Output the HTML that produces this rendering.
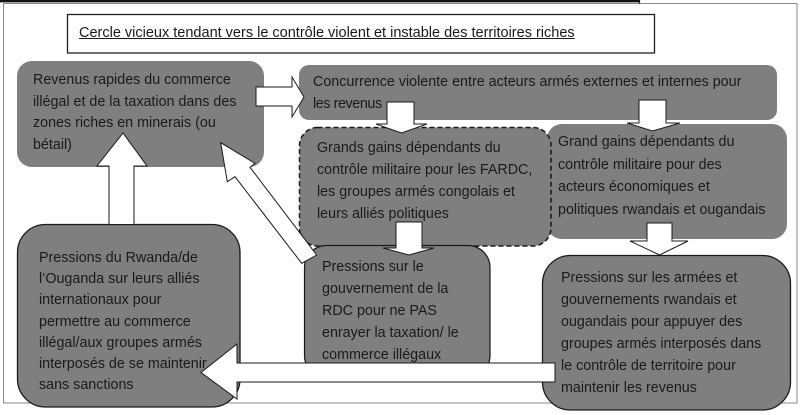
<!DOCTYPE html>
<html><head><meta charset="utf-8"><style>
html,body{margin:0;padding:0;background:#fff;}
body{width:800px;height:415px;position:relative;overflow:hidden;font-family:"Liberation Sans",Arial,sans-serif;}
svg{position:absolute;left:0;top:0;}
.t{position:absolute;color:#1a1a1a;font-size:14.3px;white-space:nowrap;line-height:22px;}
</style></head><body>
<svg width="800" height="415" style="z-index:1">
  <rect x="3.5" y="3.5" width="793.5" height="399.5" fill="#fff" stroke="#8a8a8a" stroke-width="1"/>
  <line x1="0" y1="1.2" x2="639.5" y2="1.2" stroke="#111" stroke-width="2.4"/>
  <line x1="639.5" y1="0" x2="639.5" y2="3.5" stroke="#111" stroke-width="1.2"/>
  <rect x="67.5" y="14.5" width="587" height="38.5" fill="#fff" stroke="#222" stroke-width="1.3"/>
  <rect x="17" y="61" width="247" height="106" rx="15" fill="#7f7f7f"/>
  <rect x="299" y="65" width="478" height="55" rx="10" fill="#7f7f7f"/>
  <rect x="547" y="124" width="240" height="115" rx="15" fill="#7f7f7f"/>
  <rect x="299.5" y="127.5" width="251.5" height="118.5" rx="18" fill="#7f7f7f" stroke="#1a1a1a" stroke-width="1.5" stroke-dasharray="5,3"/>
  <rect x="304.5" y="245.5" width="185.5" height="132" rx="22" fill="#7f7f7f" stroke="#1a1a1a" stroke-width="1.2"/>
  <rect x="17.5" y="224.5" width="222.5" height="182.5" rx="28" fill="#7f7f7f" stroke="#1a1a1a" stroke-width="1.3"/>
  <rect x="542.5" y="255.5" width="248" height="154.5" rx="28" fill="#7f7f7f" stroke="#1a1a1a" stroke-width="1.3"/>
</svg>

<div class="t" style="z-index:2;left:79px;top:22px;font-size:14.5px;line-height:22px;text-decoration:underline;">Cercle vicieux tendant vers le contrôle violent et instable des territoires riches</div>

<div class="t" style="z-index:2;left:33px;top:70px;line-height:21.7px;">Revenus rapides du commerce<br>illégal et de la taxation dans des<br>zones riches en minerais (ou<br>bétail)</div>

<div class="t" style="z-index:2;left:313px;top:71px;">Concurrence violente entre acteurs armés externes et internes pour<br><span style="letter-spacing:-0.4px">les revenus</span></div>

<div class="t" style="z-index:2;left:317px;top:137px;">Grands gains dépendants du<br>contrôle militaire pour les FARDC,<br>les groupes armés congolais et<br>leurs alliés politiques</div>

<div class="t" style="z-index:2;left:558px;top:131px;line-height:22.6px;">Grand gains dépendants du<br>contrôle militaire pour des<br>acteurs économiques et<br>politiques rwandais et ougandais</div>

<div class="t" style="z-index:2;left:322px;top:256px;">Pressions sur le<br>gouvernement de la<br>RDC pour ne PAS<br>enrayer la taxation/ le<br>commerce illégaux</div>

<div class="t" style="z-index:2;left:39px;top:248px;line-height:21.2px;">Pressions du Rwanda/de<br>l’Ouganda sur leurs alliés<br>internationaux pour<br>permettre au commerce<br>illégal/aux groupes armés<br>interposés de se maintenir<br>sans sanctions</div>

<div class="t" style="z-index:2;left:561px;top:267px;">Pressions sur les armées et<br>gouvernements rwandais et<br>ougandais pour appuyer des<br>groupes armés interposés dans<br>le contrôle de territoire pour<br>maintenir les revenus</div>

<svg width="800" height="415" style="z-index:3">
  <g fill="#fff" stroke="#1a1a1a" stroke-width="1" stroke-linejoin="miter">
    <polygon points="256,87 292,87 292,77 304,97 292,117 292,106 256,106"/>
    <polygon points="387,102 414,102 414,124 427,124 401.5,133 376,124 387,124"/>
    <polygon points="639,100 666,100 666,123 680,123 652.5,131 627,123 639,123"/>
    <polygon points="396,222 422,222 422,248 434,248 409,255 383,248 396,248"/>
    <polygon points="647,223 672,223 672,241 688,241 659.5,255 630,241 647,241"/>
    <polygon points="555,363 555,382 237,382 237,399 201,372.5 237,344 237,363"/>
    <polygon points="109,224.5 109,166 97,166 123,133 147,166 134,166 134,224.5"/>
    <polygon points="220.7,142.7 255,163.3 250,167.3 316.7,255 301.7,263.3 235,176.7 227.3,181.7"/>
  </g>
</svg>
</body></html>
